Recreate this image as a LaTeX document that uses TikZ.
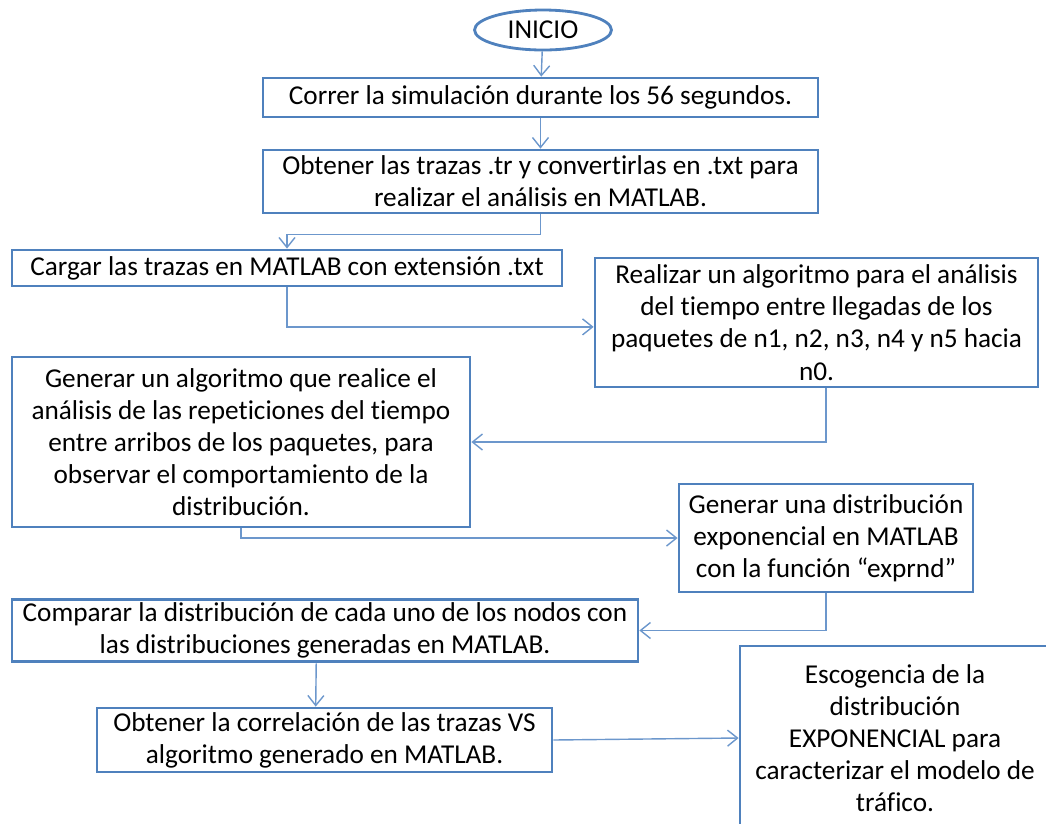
\documentclass[tikz,border=0pt]{standalone}
\usepackage{fontspec}
\setmainfont{Carlito}[Ligatures=NoCommon]
\usetikzlibrary{arrows.meta,positioning,shapes.geometric}
\definecolor{boxBlue}{HTML}{4F81BD}
\definecolor{lineBlue}{HTML}{6C97CC}
\tikzset{
  flow arrow/.style={-{Straight Barb[length=2mm,width=3.2mm]},draw=lineBlue,line width=0.8pt},
  process node/.style={draw=boxBlue,fill=white,line width=1.6pt,inner sep=2pt,
    align=center,font=\fontsize{15.5}{18.3}\selectfont},
  start node/.style={ellipse,draw=boxBlue,fill=white,line width=1.6pt,inner sep=2pt,
    font=\fontsize{15.5}{18.3}\selectfont}
}

\begin{document}
\begin{tikzpicture}[x=0.02cm,y=-0.02cm]
    \clip (0,0) rectangle (1046,823);
    \node[start node,minimum width=2.74cm,minimum height=0.8cm]
      (ini) at (543,30) {INICIO};
    \node[process node,minimum width=11.1cm,minimum height=0.78cm]
      (sim) at (540.5,97.5) {Correr la simulación durante los 56 segundos.};
    \node[process node,minimum width=11.1cm,minimum height=1.26cm]
      (traz) at (540.5,181.5) {Obtener las trazas .tr y convertirlas en .txt para\\
      realizar el análisis en MATLAB.};
    \node[process node,minimum width=11.0cm,minimum height=0.72cm]
      (carg) at (287,268) {Cargar las trazas en MATLAB con extensión .txt};
    \node[process node,minimum width=8.86cm,minimum height=2.58cm]
      (lleg) at (816.5,322.5) {Realizar un algoritmo para el análisis\\
      del tiempo entre llegadas de los\\ paquetes de n1, n2, n3, n4 y n5 hacia\\ n0.};
    \node[process node,minimum width=9.16cm,minimum height=3.4cm]
      (rep) at (241,442) {Generar un algoritmo que realice el\\
      análisis de las repeticiones del tiempo\\ entre arribos de los paquetes, para\\
      observar el comportamiento de la\\ distribución.};
    \node[process node,minimum width=5.88cm,minimum height=2.16cm]
      (expo) at (826,538) {Generar una distribución\\ exponencial en MATLAB\\
      con la función “exprnd”};
    \node[process node,minimum width=12.52cm,minimum height=1.22cm]
      (comp) at (325,630.5) {Comparar la distribución de cada uno de los nodos con\\
      las distribuciones generadas en MATLAB.};
    \node[process node,minimum width=9.1cm,minimum height=1.28cm]
      (corr) at (324.5,740) {Obtener la correlación de las trazas VS\\
      algoritmo generado en MATLAB.};
    \node[process node,minimum width=6.2cm,minimum height=3.68cm]
      (esc) at (895,738) {Escogencia de la\\ distribución\\ EXPONENCIAL para\\
      caracterizar el modelo de\\ tráfico.};
    % connectors
    \draw[flow arrow] (ini) -- (sim);
    \draw[flow arrow] (sim) -- (traz);
    \draw[flow arrow] (traz.south) -- ++(0,20) -| (carg.north);
    \draw[flow arrow] (carg.south) |- ([yshift=-2.5pt]lleg.west);
    \draw[flow arrow] (expo.north |- lleg.south) |- (rep.east);
    \draw[flow arrow] (rep.south) |- (expo.west);
    \draw[flow arrow] (expo.south) |- (comp.east);
    \draw[flow arrow] ([xshift=-5pt]comp.south) -- ([xshift=-5pt]corr.north);
    \draw[flow arrow] (corr.east) -- (esc.west);
\end{tikzpicture}
\end{document}
